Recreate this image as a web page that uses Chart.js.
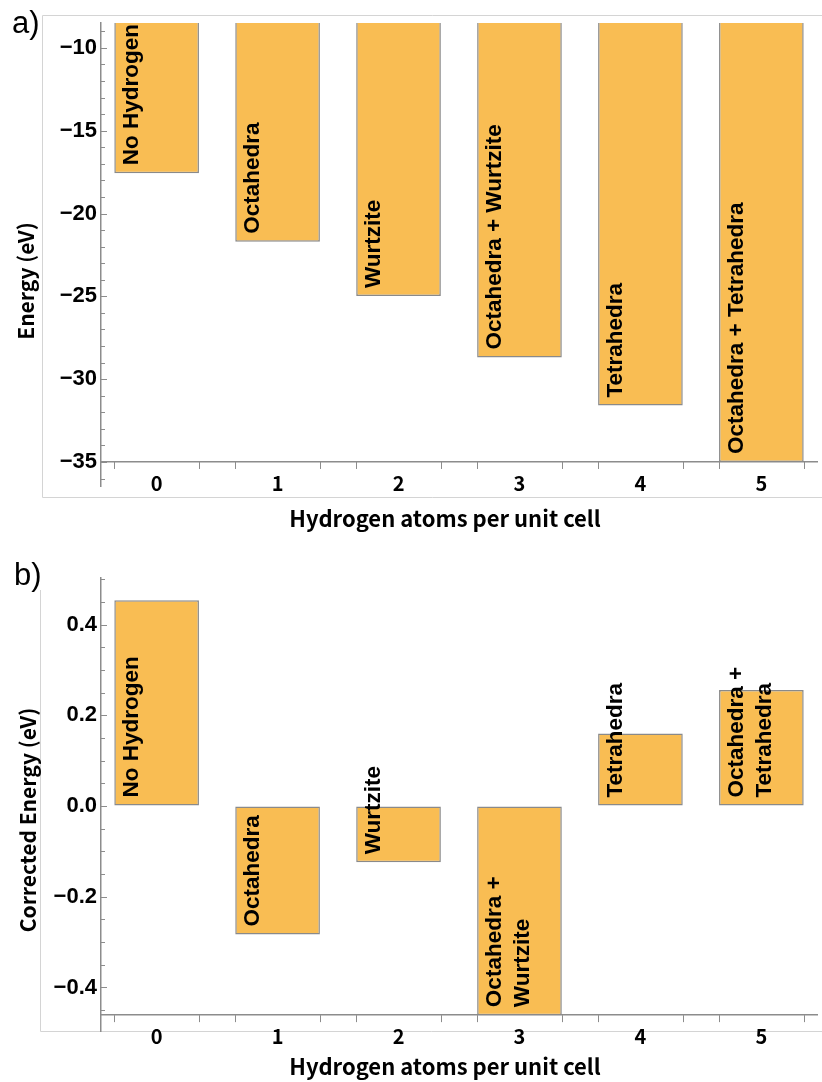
<!DOCTYPE html>
<html>
<head>
<meta charset="utf-8">
<script src="https://cdn.jsdelivr.net/npm/chart.js@4.4.1/dist/chart.umd.min.js"></script>
<style>
  html, body { margin: 0; padding: 0; background: #fff; }
  .panel { position: relative; width: 822px; }
  #panelA { height: 540px; }
  #panelB { height: 542px; }
</style>
</head>
<body>
<div class="panel" id="panelA"><canvas id="chartA"></canvas></div>
<div class="panel" id="panelB"><canvas id="chartB"></canvas></div>
<script>
// Hydrogen atoms per unit cell
const categories = [0, 1, 2, 3, 4, 5];

// a) total energy (eV)
const energyA = [-17.57, -21.71, -24.98, -28.70, -31.59, -35.0];
// b) corrected energy (eV)
const correctedB = [0.454, -0.283, -0.124, -0.461, 0.160, 0.256];

// site occupation labels written inside the bars
const siteLabelsA = [
  ['No Hydrogen'], ['Octahedra'], ['Wurtzite'],
  ['Octahedra + Wurtzite'], ['Tetrahedra'], ['Octahedra + Tetrahedra']
];
const siteLabelsB = [
  ['No Hydrogen'], ['Octahedra'], ['Wurtzite'],
  ['Octahedra +', 'Wurtzite'], ['Tetrahedra'], ['Octahedra +', 'Tetrahedra']
];

// labelled (major) y tick values
const majorTicksA = [-35, -30, -25, -20, -15, -10];
const majorTicksB = [-0.4, -0.2, 0.0, 0.2, 0.4];

const BAR_FRACTION = 0.7;
const BAR_FILL = '#F9BD53';
const BAR_EDGE = '#8a8a8a';
const AXIS_GREY = '#8c8c8c';
const FRAME_GREY = '#d4d4d4';

const minusFmt = (v, digits) => {
  const s = Math.abs(v).toFixed(digits);
  return v < -1e-9 ? '\u2212' + s : s;
};
const isMajor = (list, v) => list.some(m => Math.abs(m - v) < 1e-6);

const decor = {
  id: 'decor',
  beforeDraw(chart, args, o) {
    const ctx = chart.ctx;
    ctx.save();
    ctx.strokeStyle = FRAME_GREY;
    ctx.lineWidth = 1;
    ctx.beginPath();
    o.frame.forEach(([x1, y1, x2, y2]) => { ctx.moveTo(x1, y1); ctx.lineTo(x2, y2); });
    ctx.stroke();
    ctx.restore();
  },
  afterDraw(chart, args, o) {
    const { ctx, chartArea } = chart;
    const yScale = chart.scales.y;
    const meta = chart.getDatasetMeta(0);
    const bars = meta.data.map(b => b.getProps(['x', 'y', 'base', 'width'], true));

    ctx.save();
    ctx.strokeStyle = AXIS_GREY;
    ctx.lineWidth = 1;
    ctx.beginPath();
    // inward tick marks on the energy axis
    yScale.ticks.forEach(t => {
      const py = Math.round(yScale.getPixelForValue(t.value)) + 0.5;
      const len = isMajor(o.majors, t.value) ? 6 : 4;
      ctx.moveTo(chartArea.left, py);
      ctx.lineTo(chartArea.left + len, py);
    });
    // tick marks at both edges of every bar, hanging below the x axis
    const axisY = yScale.getPixelForValue(o.axisAt);
    bars.forEach(p => {
      [p.x - p.width / 2, p.x + p.width / 2].forEach(ex => {
        const px = Math.round(ex) + 0.5;
        ctx.moveTo(px, axisY);
        ctx.lineTo(px, axisY + 7);
      });
    });
    ctx.stroke();
    ctx.restore();

    // rotated site labels, starting from the lower end of each bar
    ctx.save();
    ctx.fillStyle = '#000';
    ctx.font = 'bold 22.5px "Liberation Sans", Arial, sans-serif';
    ctx.textAlign = 'left';
    ctx.textBaseline = 'alphabetic';
    bars.forEach((p, i) => {
      const low = Math.min(Math.max(p.y, p.base), chartArea.bottom);
      const left = p.x - p.width / 2;
      o.siteLabels[i].forEach((line, k) => {
        ctx.save();
        ctx.translate(left + 24 + k * 28, low - 8);
        ctx.rotate(-Math.PI / 2);
        ctx.fillText(line, 0, 0);
        ctx.restore();
      });
    });
    ctx.restore();

    // axis titles and panel letter
    ctx.save();
    ctx.fillStyle = '#000';
    ctx.font = 'bold 22px "Noto Sans CJK JP", sans-serif';
    ctx.textAlign = 'center';
    ctx.textBaseline = 'alphabetic';
    ctx.fillText(o.xTitle, o.xTitlePos[0], o.xTitlePos[1]);
    ctx.font = 'bold 21px "Noto Sans CJK JP", sans-serif';
    ctx.save();
    ctx.translate(o.yTitlePos[0], o.yTitlePos[1]);
    ctx.rotate(-Math.PI / 2);
    ctx.fillText(o.yTitle, 0, 0);
    ctx.restore();
    ctx.font = '31px "Liberation Sans", Arial, sans-serif';
    ctx.textAlign = 'left';
    ctx.fillText(o.letter, o.letterPos[0], o.letterPos[1]);
    ctx.restore();
  }
};

function makeChart(canvasId, values, cfg) {
  return new Chart(document.getElementById(canvasId), {
    type: 'bar',
    data: {
      datasets: [{
        data: categories.map((c, i) => ({ x: c, y: values[i] })),
        backgroundColor: BAR_FILL,
        borderColor: BAR_EDGE,
        borderWidth: 1.5,
        borderSkipped: false,
        barPercentage: BAR_FRACTION,
        categoryPercentage: 1,
        clip: 0
      }]
    },
    options: {
      responsive: true,
      maintainAspectRatio: false,
      animation: false,
      devicePixelRatio: 1,
      layout: { padding: cfg.padding },
      plugins: {
        legend: { display: false },
        tooltip: { enabled: false },
        decor: cfg.decor
      },
      scales: {
        x: {
          type: 'linear',
          min: -0.46,
          max: 5.46,
          offset: false,
          position: { y: cfg.decor.axisAt },
          afterBuildTicks: s => { s.ticks = categories.map(v => ({ value: v })); },
          ticks: {
            autoSkip: false,
            maxRotation: 0,
            padding: 2,
            color: '#000',
            font: { family: '"Noto Sans CJK JP", sans-serif', size: 20, weight: 'bold' },
            callback: v => String(v)
          },
          grid: {
            offset: false,
            drawOnChartArea: false,
            drawTicks: true,
            tickLength: 7,
            tickColor: 'rgba(0,0,0,0)'
          },
          border: { color: AXIS_GREY, width: 1.5 }
        },
        y: {
          min: cfg.yMin,
          max: cfg.yMax,
          afterFit: s => { s.width = 70; },
          ticks: {
            stepSize: cfg.step,
            autoSkip: false,
            includeBounds: false,
            padding: 4,
            color: '#000',
            font: { family: '"Liberation Sans", Arial, sans-serif', size: 22, weight: 'bold' },
            callback: v => isMajor(cfg.decor.majors, v) ? minusFmt(v, cfg.digits) : ''
          },
          grid: { drawOnChartArea: false, drawTicks: false },
          border: { color: AXIS_GREY, width: 1.5 }
        }
      }
    },
    plugins: [decor]
  });
}

makeChart('chartA', energyA, {
  padding: { top: 23, bottom: 54, left: 31, right: 5 },
  yMin: -36.45,
  yMax: -8.5,
  step: 1,
  digits: 0,
  decor: {
    axisAt: -35,
    majors: majorTicksA,
    siteLabels: siteLabelsA,
    frame: [[42.5, 15.5, 822, 15.5], [42.5, 15.5, 42.5, 497.5], [42.5, 497.5, 822, 497.5]],
    xTitle: 'Hydrogen atoms per unit cell',
    xTitlePos: [445, 527],
    yTitle: 'Energy (eV)',
    yTitlePos: [34, 281],
    letter: 'a)',
    letterPos: [12, 33]
  }
});

makeChart('chartB', correctedB, {
  padding: { top: 38, bottom: 51, left: 31, right: 5 },
  yMin: -0.496,
  yMax: 0.503,
  step: 0.05,
  digits: 1,
  decor: {
    axisAt: -0.461,
    majors: majorTicksB,
    siteLabels: siteLabelsB,
    frame: [[40.5, 50, 40.5, 491.5], [40.5, 491.5, 822, 491.5]],
    xTitle: 'Hydrogen atoms per unit cell',
    xTitlePos: [445, 535],
    yTitle: 'Corrected Energy (eV)',
    yTitlePos: [36, 280],
    letter: 'b)',
    letterPos: [14, 45]
  }
});
</script>
</body>
</html>
